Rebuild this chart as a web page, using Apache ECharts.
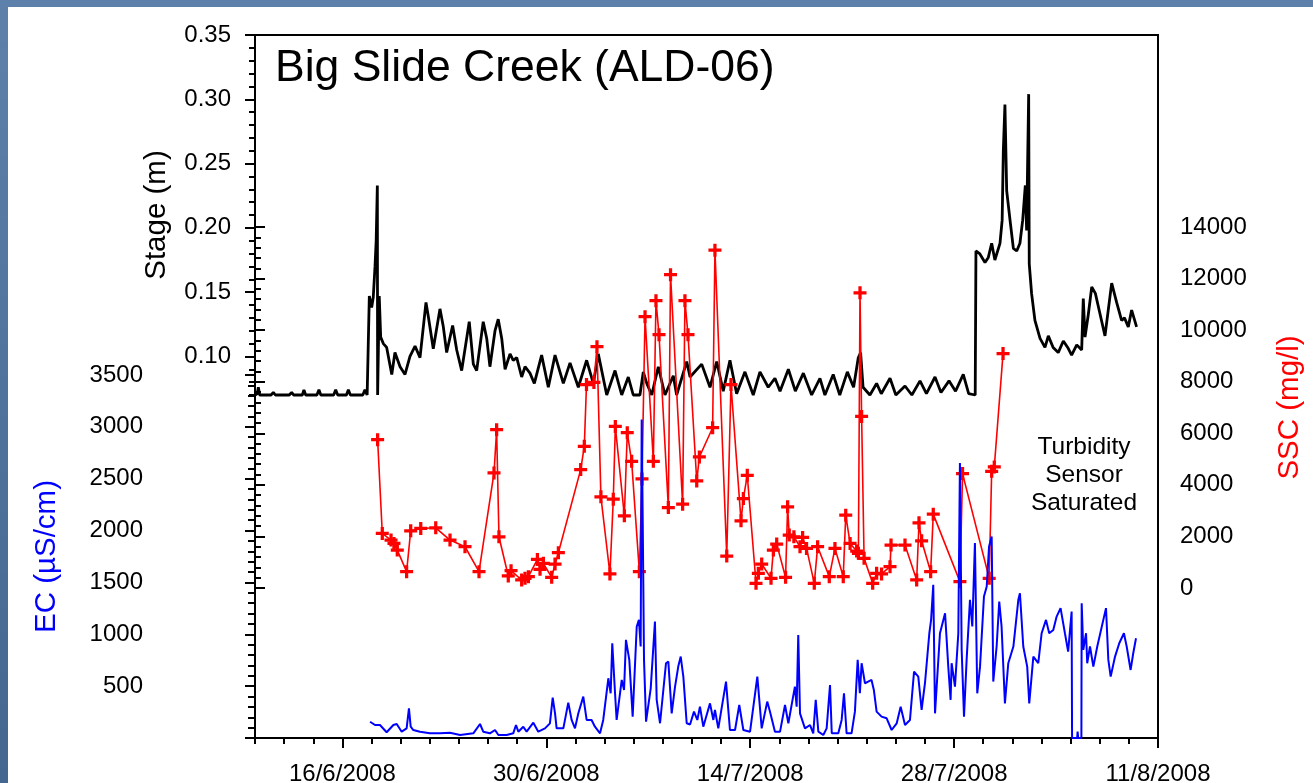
<!DOCTYPE html>
<html>
<head>
<meta charset="utf-8">
<script src="https://cdn.jsdelivr.net/npm/echarts@6.0.0/dist/echarts.min.js"></script>
<style>
html,body{margin:0;padding:0;width:1313px;height:783px;overflow:hidden;
  background:linear-gradient(180deg,#5d81aa 0%,#4f739c 50%,#44678f 100%);}
#panel{position:absolute;left:8px;top:7px;right:0;bottom:0;background:#fff;}
#chart{position:absolute;left:0;top:0;width:1313px;height:783px;}
</style>
</head>
<body>
<div id="panel"></div>
<div id="chart"></div>
<script>
// ---- Data (x = days after 10/6/2008 00:00) ----
const dayTicks = [6, 20, 34, 48, 62];
const dayLabels = ['16/6/2008', '30/6/2008', '14/7/2008', '28/7/2008', '11/8/2008'];
const stageTicks = [0.10, 0.15, 0.20, 0.25, 0.30, 0.35];

const stageDay = [0.00,0.15,0.23,0.32,1.10,1.26,1.40,2.35,2.52,2.65,3.25,3.36,3.48,4.25,4.39,4.52,5.40,5.54,5.68,6.28,6.41,6.55,7.40,7.55,7.70,7.83,
7.85,8.01,8.12,8.24,8.32,8.40,8.42,8.50,8.53,8.63,8.81,9.04,9.39,9.61,9.96,10.30,10.64,10.99,11.33,11.74,11.90,12.24,12.70,12.93,13.16,13.57,13.85,14.19,
14.71,14.99,15.22,15.67,15.91,16.13,16.48,16.70,16.94,17.17,17.51,17.73,17.97,18.31,18.54,18.88,19.18,19.68,20.14,20.60,21.17,21.63,22.20,22.77,23.23,23.57,
24.15,24.72,25.18,25.63,25.97,26.43,26.66,26.90,27.24,27.69,28.15,28.72,28.95,29.64,29.87,30.67,31.24,31.70,32.15,32.61,33.07,33.64,34.21,34.67,35.24,35.70,
36.05,36.62,37.10,37.65,38.22,38.79,39.13,39.70,40.15,40.67,41.10,41.42,41.58,41.75,42.22,42.68,43.00,43.60,44.00,44.63,45.10,45.66,46.10,46.69,47.10,47.65,
48.10,48.63,49.00,49.45,49.50,49.75,50.12,50.35,50.58,50.80,51.15,51.30,51.38,51.49,51.61,51.84,52.07,52.30,52.52,52.71,52.89,52.98,53.12,53.16,53.32,53.55,
53.90,54.24,54.47,54.80,55.15,55.50,55.80,56.07,56.42,56.76,56.87,56.99,57.22,57.45,57.70,58.02,58.36,58.82,59.16,59.50,59.70,59.96,60.19,60.53];
const stageVal = [0.070,0.071,0.076,0.070,0.070,0.072,0.070,0.070,0.072,0.070,0.070,0.074,0.070,0.070,0.074,0.070,0.070,0.074,0.070,0.070,0.074,0.070,0.070,0.074,0.070,0.070,
0.147,0.138,0.146,0.170,0.190,0.233,0.070,0.070,0.147,0.115,0.110,0.107,0.086,0.103,0.092,0.086,0.100,0.108,0.099,0.142,0.131,0.106,0.137,0.123,0.103,0.124,0.105,0.089,
0.127,0.094,0.089,0.127,0.114,0.092,0.120,0.129,0.114,0.090,0.102,0.097,0.099,0.084,0.092,0.087,0.079,0.101,0.076,0.101,0.079,0.095,0.076,0.097,0.079,0.102,
0.070,0.089,0.070,0.084,0.070,0.070,0.088,0.079,0.070,0.092,0.070,0.085,0.070,0.096,0.084,0.094,0.076,0.096,0.073,0.097,0.071,0.088,0.070,0.088,0.076,0.083,
0.073,0.090,0.073,0.087,0.070,0.083,0.070,0.086,0.070,0.088,0.076,0.099,0.103,0.076,0.070,0.079,0.071,0.083,0.070,0.077,0.070,0.081,0.071,0.084,0.072,0.081,
0.073,0.086,0.071,0.070,0.182,0.180,0.173,0.177,0.188,0.175,0.188,0.206,0.260,0.296,0.229,0.206,0.184,0.182,0.188,0.206,0.233,0.198,0.304,0.172,0.149,0.128,
0.114,0.107,0.116,0.107,0.103,0.112,0.107,0.101,0.109,0.105,0.145,0.115,0.133,0.154,0.149,0.133,0.116,0.157,0.142,0.128,0.130,0.123,0.136,0.123];

const ecDay = [7.90,8.24,8.58,9.04,9.50,9.73,10.07,10.41,10.57,10.69,10.87,11.33,12.01,12.70,13.39,14.08,14.99,15.45,15.67,16.13,16.48,16.71,17.28,17.73,17.92,18.08,
18.42,18.65,19.11,19.45,19.91,20.25,20.44,20.60,20.71,21.17,21.51,21.74,21.97,22.20,22.54,22.77,23.11,23.34,23.69,23.91,24.26,24.42,24.53,24.72,24.83,25.18,
25.34,25.47,25.70,25.93,26.21,26.36,26.48,26.55,26.62,26.71,26.85,27.17,27.46,27.58,27.81,28.22,28.38,28.61,28.84,29.06,29.23,29.41,29.64,29.87,30.14,30.37,
30.55,30.78,31.24,31.47,31.58,31.81,32.34,32.61,32.96,33.25,33.53,33.99,34.49,34.79,35.17,35.36,35.70,36.05,36.39,36.62,37.07,37.19,37.30,37.42,37.76,38.11,
38.33,38.50,38.68,39.02,39.25,39.48,39.60,40.05,40.28,40.44,40.62,40.96,41.19,41.38,41.53,41.65,41.88,42.10,42.33,42.49,42.68,43.02,43.37,43.71,44.06,44.33,
44.63,44.97,45.25,45.54,45.77,46.00,46.30,46.42,46.57,46.69,47.03,47.38,47.60,47.76,47.83,48.06,48.29,48.40,48.52,48.68,48.86,49.09,49.25,49.43,49.59,49.78,
50.05,50.24,50.40,50.58,50.69,50.92,51.10,51.26,51.49,51.72,52.07,52.41,52.52,52.75,53.02,53.16,53.44,53.78,54.01,54.31,54.53,54.81,55.04,55.31,55.61,55.83,
56.07,56.10,56.45,56.48,56.52,56.74,56.76,56.87,57.06,57.14,57.33,57.56,57.83,58.43,58.59,58.75,59.05,59.34,59.66,59.85,60.12,60.30,60.49];
const ecVal = [157,125,125,55,125,135,61,93,286,109,77,61,45,45,51,29,45,135,61,45,77,29,29,45,125,61,
109,61,148,61,93,141,389,238,93,93,341,174,93,238,399,174,174,109,45,174,576,431,914,431,174,560,
463,946,753,206,1075,1139,882,3070,2104,753,158,479,1123,367,142,721,737,238,495,689,785,592,142,130,254,174,
302,109,334,174,270,93,544,77,77,318,77,61,592,93,351,254,61,61,318,142,495,302,994,238,93,125,
45,367,61,29,93,511,45,45,174,431,45,45,254,753,431,721,528,544,560,463,254,206,190,77,142,302,
125,174,640,592,270,528,1010,1139,1477,238,1010,1203,688,367,721,495,1010,2651,849,206,753,1332,1075,1879,431,688,
1364,1461,1847,1943,544,882,1316,1075,334,721,882,1332,1396,882,688,334,785,721,1010,1139,1010,1042,1171,1252,1010,833,
1220,0,0,61,0,0,1300,849,1010,721,882,688,882,1252,753,592,785,914,1010,882,656,817,962];

const sscDay = [8.42,8.74,9.34,9.54,9.77,10.41,10.69,11.38,12.41,13.39,14.42,15.38,16.41,16.59,16.75,17.39,17.58,18.31,18.54,18.77,19.39,19.57,19.80,20.37,20.60,20.83,
22.36,22.61,22.76,23.27,23.48,23.75,24.37,24.60,24.74,25.36,25.56,25.86,26.39,26.57,26.78,27.35,27.53,27.74,28.38,28.53,29.36,29.52,29.73,30.33,30.51,31.42,
31.58,32.39,32.68,33.37,33.53,33.80,34.40,34.56,34.79,35.43,35.59,35.82,36.43,36.57,36.68,37.00,37.42,37.60,37.87,38.40,38.63,39.43,39.82,40.39,40.56,40.86,
41.31,41.43,41.54,41.65,41.82,42.41,42.68,43.02,43.60,43.67,44.63,45.43,45.59,45.77,46.39,46.57,48.40,48.58,50.41,50.58,50.76,51.36];
const sscVal = [5751,2116,1858,1729,1471,634,2219,2310,2335,1858,1600,634,4462,6138,1987,466,672,311,376,440,1110,724,956,414,930,1368,
4591,5493,7890,7970,9360,3534,544,3444,6267,2799,6022,4913,634,4230,10520,4913,11140,9825,3121,12150,3250,11140,9825,4152,5081,6215,
13100,1240,7890,2606,3469,4372,182,569,930,376,1471,1703,414,3147,2051,1987,1600,1961,1536,182,1600,440,1536,440,2825,1729,
1433,1343,11450,6653,1149,182,569,544,827,1665,1665,311,2529,1832,634,2864,247,4436,376,4526,4694,9090];

const pair = (xs, ys) => xs.map((x, i) => [x, ys[i]]);
const FONT = 'Liberation Sans, Arial, sans-serif';
const PLUS = 'path://M-1.5,-6H1.5V-1.5H6V1.5H1.5V6H-1.5V1.5H-6V-1.5H-1.5Z';
const blk = '#000';

const chart = echarts.init(document.getElementById('chart'), null, {renderer: 'canvas'});
const hiddenX = (g) => ({type: 'value', gridIndex: g, min: 0, max: 62, show: false});
const lbl = {color: blk, fontSize: 24, fontFamily: FONT};

chart.setOption({
  animation: false,
  backgroundColor: 'transparent',
  textStyle: {fontFamily: FONT},
  title: {
    text: 'Big Slide Creek (ALD-06)', left: 270, top: 41, padding: 5,
    textStyle: {fontSize: 44.5, fontWeight: 'normal', color: blk, fontFamily: FONT}
  },
  graphic: [{
    type: 'text', z: 10,
    style: {text: 'Turbidity\nSensor\nSaturated', x: 1084, y: 433, textAlign: 'center', textVerticalAlign: 'top',
      fontSize: 24.5, fontFamily: FONT, lineHeight: 28, fill: blk}
  }],
  grid: [
    {left: 255, top: 35, width: 903, height: 360, outerBoundsMode: 'none', containLabel: false},
    {left: 255, top: 227, width: 903, height: 361, outerBoundsMode: 'none', containLabel: false},
    {left: 255, top: 375, width: 903, height: 363, outerBoundsMode: 'none', containLabel: false},
    {left: 255, top: 35, width: 903, height: 703, show: true, borderColor: blk, borderWidth: 2,
      backgroundColor: 'transparent', outerBoundsMode: 'none', containLabel: false}
  ],
  xAxis: [
    hiddenX(0), hiddenX(1),
    {type: 'value', gridIndex: 2, min: 0, max: 62, position: 'bottom',
      axisLine: {show: true, lineStyle: {color: blk, width: 2}},
      axisTick: {show: true, customValues: dayTicks, length: 10, lineStyle: {color: blk, width: 2}},
      axisLabel: Object.assign({customValues: dayTicks, margin: 24, showMinLabel: true, showMaxLabel: true,
        formatter: v => dayLabels[dayTicks.indexOf(Math.round(v))] || ''}, lbl),
      splitLine: {show: false}},
    {type: 'value', gridIndex: 2, min: 0, max: 62, interval: 2, position: 'bottom', offset: 0,
      axisLine: {show: false}, axisTick: {show: true, length: 6, lineStyle: {color: blk, width: 2}},
      axisLabel: {show: false}, splitLine: {show: false}},
    hiddenX(3)
  ],
  yAxis: [
    {type: 'value', gridIndex: 0, min: 0.07, max: 0.35, position: 'left',
      axisLine: {show: true, lineStyle: {color: blk, width: 2}},
      axisTick: {show: true, customValues: stageTicks, length: 10, lineStyle: {color: blk, width: 2}},
      axisLabel: Object.assign({customValues: stageTicks, margin: 24, formatter: v => v.toFixed(2)}, lbl),
      splitLine: {show: false},
      name: 'Stage (m)', nameLocation: 'middle', nameRotate: 90, nameGap: 83,
      nameTextStyle: {color: blk, fontSize: 29.5, fontFamily: FONT}},
    {type: 'value', gridIndex: 0, min: 0.07, max: 0.35, interval: 0.01, position: 'left', offset: 0,
      axisLine: {show: false}, axisTick: {show: true, length: 6, lineStyle: {color: blk, width: 2}},
      axisLabel: {show: false}, splitLine: {show: false}},
    {type: 'value', gridIndex: 1, min: 0, max: 14000, interval: 2000, position: 'right',
      axisLine: {show: true, lineStyle: {color: blk, width: 2}},
      axisTick: {show: true, length: 10, lineStyle: {color: blk, width: 2}},
      minorTick: {show: true, splitNumber: 5, length: 6, lineStyle: {color: blk, width: 2}},
      axisLabel: Object.assign({margin: 22, formatter: v => String(v)}, lbl),
      splitLine: {show: false}, minorSplitLine: {show: false},
      name: 'SSC (mg/l)', nameLocation: 'middle', nameRotate: 90, nameGap: 117,
      nameTextStyle: {color: '#ff0000', fontSize: 29.5, fontFamily: FONT}},
    {type: 'value', gridIndex: 2, min: 0, max: 3500, interval: 500, position: 'left', offset: 90,
      axisLine: {show: true, lineStyle: {color: blk, width: 2}},
      axisTick: {show: true, length: 10, lineStyle: {color: blk, width: 2}},
      minorTick: {show: true, splitNumber: 5, length: 7, lineStyle: {color: blk, width: 2}},
      axisLabel: Object.assign({margin: 22, formatter: v => v === 0 ? '' : String(v)}, lbl),
      splitLine: {show: false}, minorSplitLine: {show: false},
      name: 'EC (\u00b5S/cm)', nameLocation: 'middle', nameRotate: 90, nameGap: 103,
      nameTextStyle: {color: '#0000ff', fontSize: 29.5, fontFamily: FONT}},
    {type: 'value', gridIndex: 3, min: 0, max: 1, show: false}
  ],
  series: [
    {type: 'line', name: 'Stage', xAxisIndex: 0, yAxisIndex: 0, data: pair(stageDay, stageVal),
      showSymbol: false, clip: false, z: 2, lineStyle: {color: blk, width: 2.8}},
    {type: 'line', name: 'SSC', xAxisIndex: 1, yAxisIndex: 2, data: pair(sscDay, sscVal),
      symbol: PLUS, symbolSize: 13, showAllSymbol: true, clip: false, z: 3,
      itemStyle: {color: '#ff0000'}, lineStyle: {color: '#ff0000', width: 1.6}},
    {type: 'line', name: 'EC', xAxisIndex: 2, yAxisIndex: 3, data: pair(ecDay, ecVal),
      showSymbol: false, clip: false, z: 4, lineStyle: {color: '#0000ff', width: 2}}
  ]
});
</script>
</body>
</html>
